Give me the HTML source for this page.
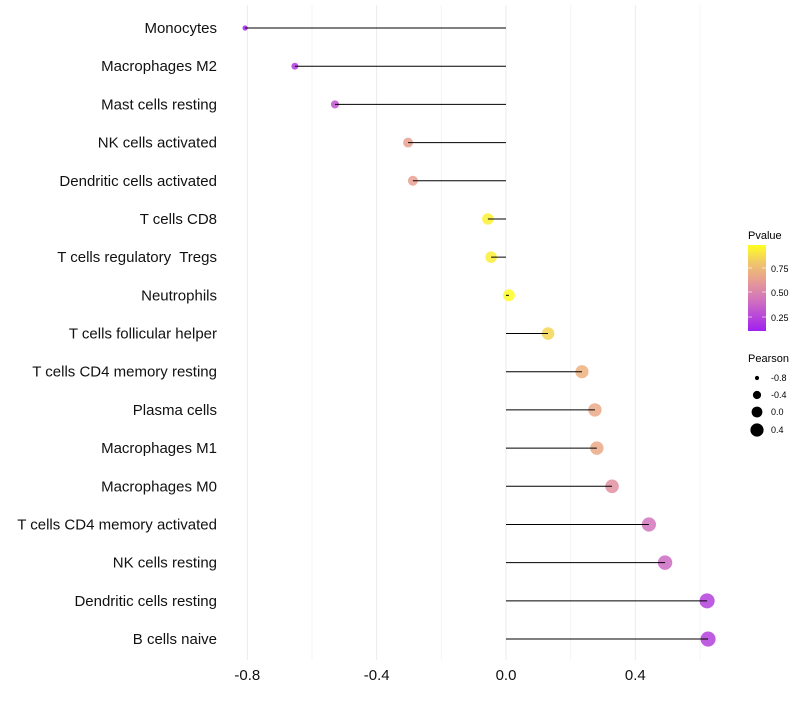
<!DOCTYPE html>
<html><head><meta charset="utf-8"><style>
body{margin:0;background:#fff;font-family:"Liberation Sans",sans-serif}
text{white-space:pre}
</style></head><body>
<svg id="chart" width="800" height="700" xmlns="http://www.w3.org/2000/svg">
<defs><linearGradient id="pg" x1="0" y1="1" x2="0" y2="0">
<stop offset="0" stop-color="#a020f0"/><stop offset="0.35" stop-color="#d070c0"/><stop offset="0.6" stop-color="#e8a090"/><stop offset="0.8" stop-color="#f0c868"/><stop offset="1" stop-color="#ffff20"/></linearGradient></defs>
<g id="grid"></g><g id="marks"></g><g id="labels"></g>
<g font-size="10">
<text x="748" y="239" font-size="11">Pvalue</text>
<rect x="748" y="245" width="18" height="86" fill="url(#pg)"/>
<g stroke="#fff" stroke-opacity="0.6"><line x1="748" y1="268" x2="752" y2="268"/><line x1="762" y1="268" x2="766" y2="268"/><line x1="748" y1="292" x2="752" y2="292"/><line x1="762" y1="292" x2="766" y2="292"/><line x1="748" y1="317" x2="752" y2="317"/><line x1="762" y1="317" x2="766" y2="317"/></g>
<text x="771" y="272" font-size="9">0.75</text><text x="771" y="296" font-size="9">0.50</text><text x="771" y="321" font-size="9">0.25</text>
</g>
<g>
<text x="748" y="362" font-size="11">Pearson</text>
<circle cx="757" cy="378" r="2.1"/><text x="771" y="381" font-size="9">-0.8</text>
<circle cx="757" cy="395" r="4.1"/><text x="771" y="398" font-size="9">-0.4</text>
<circle cx="757" cy="412" r="5.4"/><text x="771" y="415" font-size="9">0.0</text>
<circle cx="757" cy="430" r="6.6"/><text x="771" y="433" font-size="9">0.4</text>
</g>
</svg>
<script>
const categories=["Monocytes","Macrophages M2","Mast cells resting","NK cells activated","Dendritic cells activated","T cells CD8","T cells regulatory  Tregs","Neutrophils","T cells follicular helper","T cells CD4 memory resting","Plasma cells","Macrophages M1","Macrophages M0","T cells CD4 memory activated","NK cells resting","Dendritic cells resting","B cells naive"];
const pearson=[-0.807,-0.653,-0.529,-0.303,-0.288,-0.056,-0.046,0.009,0.130,0.235,0.275,0.281,0.328,0.442,0.492,0.622,0.625];
const pvalues=[0.12,0.2,0.3,0.62,0.62,0.95,0.94,0.99,0.85,0.7,0.66,0.66,0.55,0.42,0.38,0.22,0.22];
const xTicks=[-0.8,-0.4,0.0,0.4];
const xMinor=[-0.6,-0.2,0.2,0.6];
const NS="http://www.w3.org/2000/svg";
const x=v=>506+v*323.3;
const y=i=>28+i*38.19;
const r=v=>Math.sqrt(Math.max(1,35+35*v));
const stops=[[0.1,[160,32,240]],[0.4,[208,112,192]],[0.62,[232,160,144]],[0.8,[240,200,104]],[1,[255,255,32]]];
function col(p){if(p<=stops[0][0])return "rgb("+stops[0][1]+")";for(let k=1;k<stops.length;k++){if(p<=stops[k][0]){const a=stops[k-1],b=stops[k],t=(p-a[0])/(b[0]-a[0]);return "rgb("+a[1].map((c,j)=>Math.round(c+(b[1][j]-c)*t)).join(",")+")";}}return "rgb(255,255,32)";}
function mk(t,at,parent){const e=document.createElementNS(NS,t);for(const k in at)e.setAttribute(k,at[k]);document.getElementById(parent).appendChild(e);return e;}
xMinor.forEach(v=>{const l=mk("line",{x1:x(v),x2:x(v),y1:5,y2:660,stroke:"#f4f4f4","stroke-width":1},"grid");

});
xTicks.forEach(v=>{const l=mk("line",{x1:x(v),x2:x(v),y1:5,y2:660,stroke:"#ebebeb","stroke-width":1},"grid");


const t=mk("text",{x:x(v),y:680,"text-anchor":"middle","font-size":15,fill:"#111"},"labels");t.textContent=v.toFixed(1);

});
categories.forEach((c,i)=>{
const t=mk("text",{x:217,y:y(i)+5,"text-anchor":"end","font-size":15,fill:"#111"},"labels");t.textContent=c;


const d=mk("circle",{cx:x(pearson[i]),cy:y(i),r:r(pearson[i]),fill:col(pvalues[i]),"fill-opacity":0.85},"marks");


const s=mk("line",{x1:x(0),x2:x(pearson[i]),y1:y(i),y2:y(i),stroke:"#000","stroke-width":1},"marks");


});
</script>
</body></html>
